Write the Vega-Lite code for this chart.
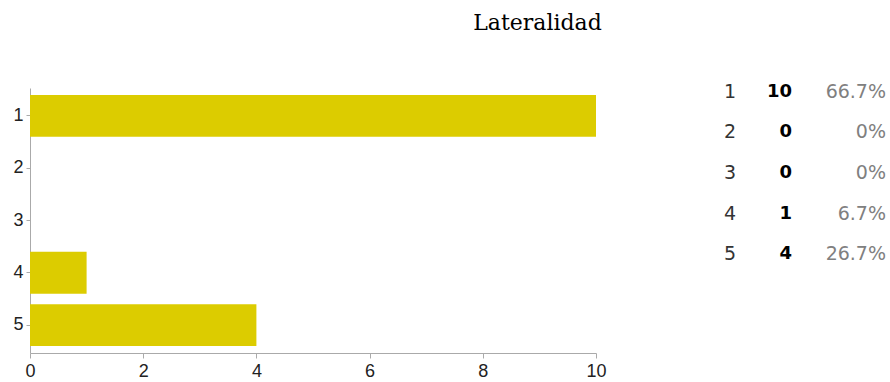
{
  "$schema": "https://vega.github.io/schema/vega-lite/v6.json",
  "padding": {"left": 12, "top": 11, "right": 5, "bottom": 5},
  "background": "#ffffff",
  "title": {"text": "Lateralidad", "font": "DejaVu Serif", "fontSize": 22, "fontWeight": "normal", "color": "#000000", "anchor": "middle", "dx": 88, "offset": 48},
  "config": {"view": {"stroke": null}, "concat": {"spacing": 116}},
  "datasets": {
    "t": [
      {"option": "1", "count": 10, "pct": "66.7%"},
      {"option": "2", "count": 0, "pct": "0%"},
      {"option": "3", "count": 0, "pct": "0%"},
      {"option": "4", "count": 1, "pct": "6.7%"},
      {"option": "5", "count": 4, "pct": "26.7%"}
    ]
  },
  "hconcat": [
    {
      "width": 566,
      "height": 265,
      "data": {"name": "t"},
      "mark": {"type": "bar", "color": "#DCCC00"},
      "encoding": {
        "y": {
          "field": "option", "type": "ordinal",
          "scale": {"paddingInner": 0.2, "paddingOuter": 0.134},
          "axis": {"title": null, "labelFont": "Liberation Sans", "labelFontSize": 18, "labelColor": "#222222", "domainColor": "#aaaaaa", "tickColor": "#aaaaaa", "tickSize": 4, "labelPadding": 3, "labelAngle": 0, "grid": false}
        },
        "x": {
          "field": "count", "type": "quantitative",
          "scale": {"domain": [0, 10], "nice": false},
          "axis": {"title": null, "values": [0, 2, 4, 6, 8, 10], "labelFont": "Liberation Sans", "labelFontSize": 18, "labelColor": "#222222", "domainColor": "#aaaaaa", "tickColor": "#aaaaaa", "tickSize": 5, "labelPadding": 4, "grid": false, "labelFlush": false}
        }
      }
    },
    {
      "width": 156,
      "height": 170,
      "data": {"name": "t"},
      "encoding": {
        "y": {"field": "option", "type": "ordinal", "scale": {"type": "point", "padding": 0.09}, "axis": null}
      },
      "layer": [
        {
          "mark": {"type": "text", "font": "DejaVu Sans", "fontSize": 19, "color": "#333333", "align": "center"},
          "encoding": {
            "x": {"datum": "option", "type": "nominal", "scale": {"type": "point", "domain": ["option", "count", "pct"], "padding": 0}, "axis": null},
            "text": {"field": "option"}
          }
        },
        {
          "mark": {"type": "text", "font": "DejaVu Sans", "fontSize": 18, "fontWeight": "bold", "color": "#000000", "align": "right", "dx": -16},
          "encoding": {
            "x": {"datum": "count", "type": "nominal", "axis": null},
            "text": {"field": "count"}
          }
        },
        {
          "mark": {"type": "text", "font": "DejaVu Sans", "fontSize": 19, "color": "#808080", "align": "right"},
          "encoding": {
            "x": {"datum": "pct", "type": "nominal", "axis": null},
            "text": {"field": "pct"}
          }
        }
      ]
    }
  ]
}
